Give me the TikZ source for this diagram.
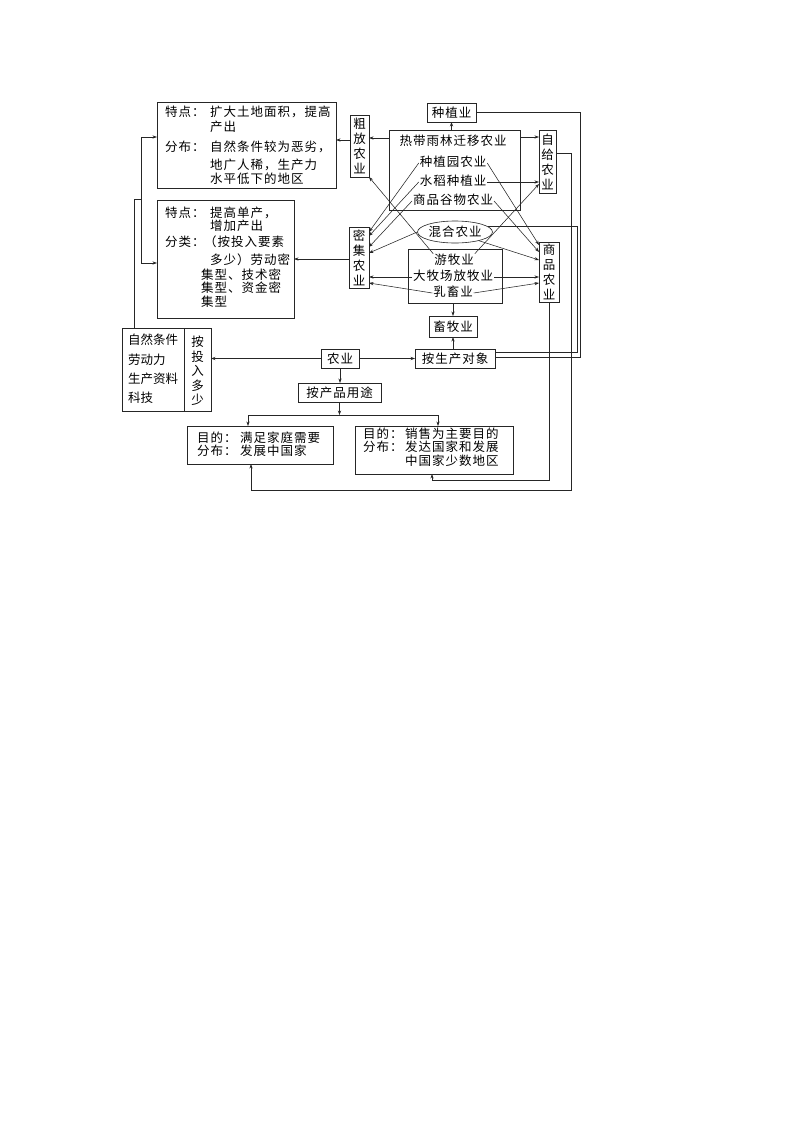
\documentclass[tikz,border=0pt]{standalone}
\usepackage{fontspec}
\newfontfamily\cjk[LetterSpace=8]{Noto Sans CJK SC}
\newfontfamily\cjkn{Noto Sans CJK SC}
\usetikzlibrary{arrows.meta,calc,shapes.geometric}
\begin{document}
\begin{tikzpicture}[x=1pt,y=-1pt,
  ln/.style={line width=0.55pt, draw=black!85},
  arr/.style={ln, -{Stealth[length=4.5pt,width=3.2pt]}},
  box/.style={draw=black!85, line width=0.6pt, inner sep=0pt, outer sep=0pt, font=\cjk\fontsize{12.5}{15}\selectfont, align=center},
  vbox/.style={box, font=\cjkn\fontsize{12.5}{15}\selectfont},
  txt/.style={inner sep=0pt, outer sep=1pt, font=\cjk\fontsize{12.5}{15}\selectfont, text height=10pt, text depth=2.5pt},
  ntxt/.style={txt, font=\cjkn\fontsize{12.5}{15}\selectfont},
]
\fill[white] (0,0) rectangle (800,1132);
\useasboundingbox (0,0) rectangle (800,1132);

% ---------- boxes ----------
\node[box, minimum width=179pt, minimum height=86pt] (b1) at (246.5,145) {};
\node[box, minimum width=137pt, minimum height=118pt] (b2) at (225.5,259) {};
\node[box, minimum width=131pt, minimum height=80pt] (rdbox) at (454.5,170) {};
\node[box, minimum width=94pt, minimum height=54pt] (ym) at (455,276) {};
\node[box, minimum width=89pt, minimum height=83pt] (trbox) at (166.5,369.5) {};
\node[box, minimum width=146pt, minimum height=38pt] (bl) at (260,445) {};
\node[box, minimum width=158pt, minimum height=48pt] (br) at (434,450) {};

\node[box, minimum width=49pt, minimum height=19pt] (zyy) at (451.5,112.5) {种植业};
\node[box, minimum width=48pt, minimum height=21pt] (xmy) at (453,326.5) {畜牧业};
\node[box, minimum width=38pt, minimum height=19pt] (ny) at (340,358.5) {农业};
\node[box, minimum width=80pt, minimum height=19pt] (scdx) at (455,358.5) {按生产对象};
\node[box, minimum width=83pt, minimum height=19pt] (cpyt) at (339.5,392.5) {按产品用途};

\node[vbox, minimum width=19pt, minimum height=62pt] (cf) at (359.5,146) {粗\\放\\农\\业};
\node[vbox, minimum width=20pt, minimum height=61pt] (mj) at (359,257.5) {密\\集\\农\\业};
\node[vbox, minimum width=17pt, minimum height=63pt] (zg) at (547.5,161.5) {自\\给\\农\\业};
\node[vbox, minimum width=20pt, minimum height=60pt] (sp) at (549,272) {商\\品\\农\\业};

\node[draw=black!85, line width=0.6pt, ellipse, minimum width=74pt, minimum height=22pt, inner sep=0pt,
      font=\cjk\fontsize{12.5}{15}\selectfont] (hh) at (455,232) {混合农业};

% ---------- texts in group boxes ----------
\node[txt] (rd) at (453,142) {热带雨林迁移农业};
\node[txt] (zzy) at (453,163) {种植园农业};
\node[txt] (sd) at (453,182) {水稻种植业};
\node[txt] (gw) at (453,201) {商品谷物农业};
\node[txt] (ymy) at (454,261) {游牧业};
\node[txt] (dmc) at (453,277) {大牧场放牧业};
\node[txt] (rx) at (453,293) {乳畜业};

% box 1 text
\node[txt, anchor=west] (b1l1) at (164,113) {特点：};
\node[txt, anchor=west] (b1r1) at (209,113) {扩大土地面积，提高};
\node[txt, anchor=west] (b1r2) at (209,128) {产出};
\node[txt, anchor=west] (b1l2) at (164,148) {分布：};
\node[txt, anchor=west] (b1r3) at (209,148) {自然条件较为恶劣，};
\node[txt, anchor=west] (b1r4) at (209,166) {地广人稀，生产力};
\node[txt, anchor=west] (b1r5) at (209,180) {水平低下的地区};

% box 2 text
\node[txt, anchor=west] (b2l1) at (164,214) {特点：};
\node[txt, anchor=west] (b2r1) at (209,214) {提高单产，};
\node[txt, anchor=west] (b2r2) at (209,227) {增加产出};
\node[txt, anchor=west] (b2l2) at (164,243) {分类：};
\node[txt, anchor=west] (b2r3) at (203,243) {（按投入要素};
\node[txt, anchor=west] (b2r4) at (209,261) {多少）劳动密};
\node[txt, anchor=west] (b2r5) at (200,276) {集型、技术密};
\node[txt, anchor=west] (b2r6) at (200,289) {集型、资金密};
\node[txt, anchor=west] (b2r7) at (200,303) {集型};

% factor box
\node[ntxt, anchor=west] (f1) at (127,341) {自然条件};
\node[ntxt, anchor=west] (f2) at (127,361) {劳动力};
\node[ntxt, anchor=west] (f3) at (127,380) {生产资料};
\node[ntxt, anchor=west] (f4) at (127,399) {科技};
\node[inner sep=0pt, align=center, font=\cjkn\fontsize{12.5}{14.5}\selectfont] (atr) at (197.5,371) {按\\投\\入\\多\\少};
\coordinate (dv) at (184,328);
\draw[ln] (dv) -- (dv |- trbox.south);

% bottom boxes text
\node[txt, anchor=west] (bl1) at (196,439) {目的：};
\node[txt, anchor=west] (bl2) at (239,439) {满足家庭需要};
\node[txt, anchor=west] (bl3) at (196,452) {分布：};
\node[txt, anchor=west] (bl4) at (239,452) {发展中国家};
\node[txt, anchor=west] (br1) at (362,435) {目的：};
\node[txt, anchor=west] (br2) at (404,435) {销售为主要目的};
\node[txt, anchor=west] (br3) at (362,448) {分布：};
\node[txt, anchor=west] (br4) at (404,448) {发达国家和发展};
\node[txt, anchor=west] (br5) at (404,462) {中国家少数地区};

% ---------- helper levels ----------
\coordinate (y137) at (0,137);
\coordinate (y138) at (0,138);
\coordinate (y140) at (0,140);
\coordinate (y153) at (0,153);

% ---------- left side ----------
\coordinate (l1) at (141,137);
\coordinate (l2) at (141,263);
\coordinate (l3) at (141,199);
\coordinate (l4) at (134,199);
\draw[ln] (l1) -- (l2);
\draw[arr] (l1) -- (l1 -| b1.west);
\draw[arr] (l2) -- (l2 -| b2.west);
\draw[ln] (trbox.north -| l4) -- (l4) -- (l3);

\draw[arr] (cf.west |- y140) -- (b1.east |- y140);
\draw[arr] (mj.west |- b2.east) -- (b2.east);

% ---------- top group ----------
\draw[arr] (rdbox.west |- y138) -- (cf.east |- y138);
\draw[arr] (rdbox.east |- y137) -- (zg.west |- y137);
\draw[arr] (zyy.south |- rdbox.north) -- (zyy.south);

\coordinate (r1) at (580,357);
\draw[ln] (zyy.east) -| (r1) -- (r1 -| scdx.east);
\coordinate (r2) at (577,352);
\draw[ln] (hh.10) -| (r2) -- (r2 -| scdx.east);

\coordinate (r3) at (571,490);
\draw[arr] (zg.east |- y153) -| (r3) -| ($(bl.south west)+(64,0)$);
\coordinate (r4) at (549,480);
\draw[arr] (sp.south) -- (sp.south |- r4) -| ($(br.south west)+(77,0)$);

% ---------- crossing connectors ----------
\draw[arr] (zzy.west) -- ($(mj.north east)+(0,5)$);
\draw[arr] (zzy.east) -- ($(sp.north west)+(0,3)$);
\draw[arr] (sd.west) -- ($(mj.north east)+(0,9)$);
\draw[arr] (sd.east) -- (sd.east -| zg.west);
\draw[arr] (gw.west) -- ($(mj.north east)+(0,20)$);
\draw[arr] (gw.east) -- ($(sp.north west)+(0,10)$);
\draw[arr] (hh.west) -- ($(mj.north east)+(0,26)$);
\draw[arr] (hh.-20) -- ($(sp.north west)+(0,18)$);
\draw[arr] (ymy.north west) -- (cf.south east);
\draw[arr] (ymy.north east) -- ($(zg.north west)+(0,54)$);
\draw[arr] (dmc.west) -- (dmc.west -| mj.east);
\draw[arr] (dmc.east) -- (dmc.east -| sp.west);
\draw[arr] (rx.west) -- ($(mj.north east)+(0,56)$);
\draw[arr] (rx.east) -- ($(sp.north west)+(0,41)$);

% ---------- lower part ----------
\draw[arr] (xmy.north |- ym.south) -- (xmy.north);
\draw[arr] (xmy.south |- scdx.north) -- (xmy.south);
\draw[arr] (ny.east) -- (scdx.west);
\draw[arr] (ny.west) -- (ny.west -| trbox.east);
\draw[arr] (ny.south) -- (ny.south |- cpyt.north);

\coordinate (jl) at (248,415);
\coordinate (jr) at (438,415);
\draw[arr] (cpyt.south) -- (cpyt.south |- jl);
\draw[ln] (jl) -- (jr);
\draw[arr] (jl) -- (jl |- bl.north);
\draw[arr] (jr) -- (jr |- br.north);
\end{tikzpicture}
\end{document}
